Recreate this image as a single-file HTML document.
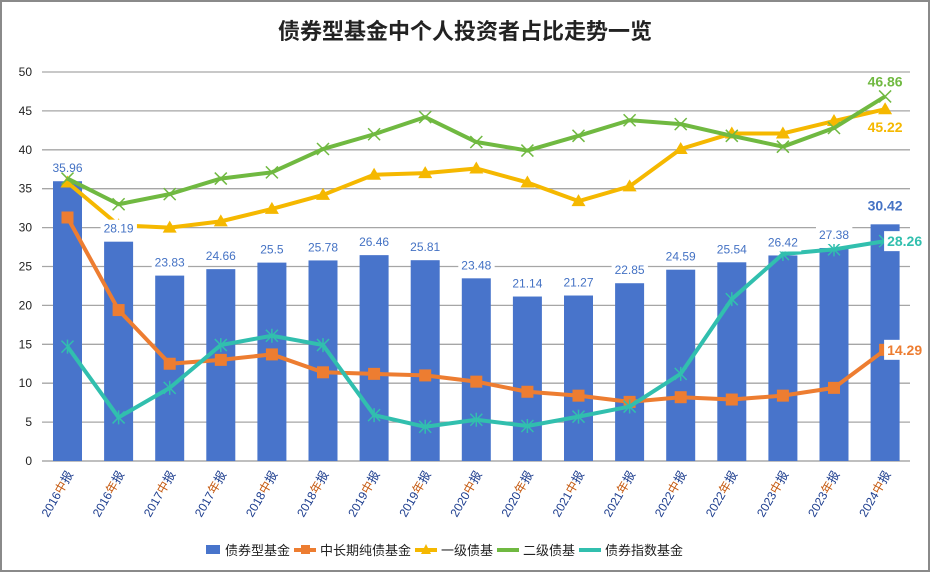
<!DOCTYPE html>
<html><head><meta charset="utf-8"><style>
body{margin:0;background:#fff;font-family:"Liberation Sans","Noto Sans CJK SC",sans-serif}
svg text{font-family:"Liberation Sans","Noto Sans CJK SC",sans-serif}
</style></head><body>
<svg id="c" width="930" height="572">
<rect x="1" y="1" width="928" height="570" fill="#fff" stroke="#8a8a8a" stroke-width="2"/>
<text x="465" y="39" text-anchor="middle" font-size="22" font-weight="bold" fill="#222">债券型基金中个人投资者占比走势一览</text>
<g id="grid"></g><g id="bars"></g><g id="lines"></g><g id="labels"></g><g id="xlab"></g>
<g id="legend"></g>
</svg>
<script>
const categories=["2016中报","2016年报","2017中报","2017年报","2018中报","2018年报","2019中报","2019年报","2020中报","2020年报","2021中报","2021年报","2022中报","2022年报","2023中报","2023年报","2024中报"];
const bondFund=[35.96,28.19,23.83,24.66,25.5,25.78,26.46,25.81,23.48,21.14,21.27,22.85,24.59,25.54,26.42,27.38,30.42];
const pureBond=[31.3,19.4,12.5,13.0,13.7,11.4,11.2,11.0,10.2,8.9,8.4,7.6,8.2,7.9,8.4,9.4,14.29];
const primaryBond=[35.8,30.3,30.0,30.8,32.4,34.2,36.8,37.0,37.6,35.8,33.4,35.3,40.1,42.1,42.1,43.7,45.22];
const secondaryBond=[36.3,33.0,34.3,36.3,37.1,40.1,42.0,44.2,41.0,39.9,41.8,43.8,43.3,41.8,40.4,42.8,46.86];
const indexBond=[14.7,5.6,9.4,14.9,16.1,14.9,5.9,4.4,5.3,4.5,5.7,7.0,11.2,20.8,26.6,27.2,28.26];
const yTicks=[0,5,10,15,20,25,30,35,40,45,50];
const NS="http://www.w3.org/2000/svg";
const y=v=>461-v*7.78;
const x=i=>67.5+i*51.1;
function mk(t,a,p){const e=document.createElementNS(NS,t);for(const k in a)e.setAttribute(k,a[k]);p.appendChild(e);return e;}
const G=document.getElementById('grid'),B=document.getElementById('bars'),L=document.getElementById('lines'),LB=document.getElementById('labels'),XL=document.getElementById('xlab'),LG=document.getElementById('legend');
yTicks.forEach(t=>{
 const l=mk('line',{x1:42,x2:910,y1:y(t),y2:y(t),stroke:t==0?'#999':'#a6a6a6','stroke-width':1.3},G);
 
 
 const tx=mk('text',{x:32,y:y(t)+4,'text-anchor':'end','font-size':12,fill:'#222'},G);tx.textContent=t;
 
 
});
bondFund.forEach((v,i)=>{
 const r=mk('rect',{x:x(i)-14.5,y:y(v),width:29,height:y(0)-y(v),fill:'#4874cb'},B);
 
 
});
function line(data,color,marker,name){
 const g=mk('g',{},L);
 
 
 mk('polyline',{points:data.map((v,i)=>x(i)+','+y(v)).join(' '),fill:'none',stroke:color,'stroke-width':4,'stroke-linejoin':'round'},g);
 data.forEach((v,i)=>{
  const cx=x(i),cy=y(v);
  if(marker=='sq')mk('rect',{x:cx-6,y:cy-6,width:12,height:12,fill:color},g);
  if(marker=='tri')mk('polygon',{points:`${cx},${cy-7} ${cx-7},${cy+5} ${cx+7},${cy+5}`,fill:color},g);
  if(marker=='x'||marker=='star'){mk('path',{d:`M${cx-6} ${cy-6}L${cx+6} ${cy+6}M${cx+6} ${cy-6}L${cx-6} ${cy+6}`+(marker=='star'?`M${cx} ${cy-7}V${cy+7}`:''),stroke:color,'stroke-width':1.5},g);}
 });
}
line(pureBond,'#ed7d31','sq','line-pure-bond');
line(primaryBond,'#f5b800','tri','line-primary-bond');
line(secondaryBond,'#70b941','x','line-secondary-bond');
line(indexBond,'#31bfae','star','line-index-bond');
function lab(tx,px,py,color,size,bold,bg,anchor){
 const t=mk('text',{x:px,y:py,'text-anchor':anchor||'middle','font-size':size,fill:color,'font-weight':bold?'bold':'normal'},LB);
 t.textContent=tx;
 
 
 if(bg){const bb=t.getBBox();const r=mk('rect',{x:bb.x-3,y:bb.y-2,width:bb.width+6,height:bb.height+4,fill:'#fff'},LB);LB.insertBefore(r,t);}
}
bondFund.forEach((v,i)=>{
 const last=i==bondFund.length-1;
 lab(String(v),x(i),y(v)-(last?14:9),'#4472c4',last?14:12,last,!last&&i>0);
});
const n=categories.length-1;
lab(String(secondaryBond[n]),x(n),y(secondaryBond[n])-10,'#70b941',14,true,false);
lab(String(primaryBond[n]),x(n),y(primaryBond[n])+23,'#f5b800',14,true,false);
lab(String(indexBond[n]),x(n)+2,y(indexBond[n])+5,'#31bfae',14,true,true,'start');
lab(String(pureBond[n]),x(n)+2,y(pureBond[n])+5,'#ed7d31',14,true,true,'start');
categories.forEach((c,i)=>{
 const t=mk('text',{x:0,y:0,'text-anchor':'end','font-size':12,fill:'#1f3f8f',transform:`translate(${x(i)+6},${474}) rotate(-60)`},XL);
 t.innerHTML=c.slice(0,4)+'<tspan fill="#c55a11">'+c[4]+'</tspan>'+c[5];
 
 
});
const leg=[['债券型基金','#4874cb','bar'],['中长期纯债基金','#ed7d31','sq'],['一级债基','#f5b800','tri'],['二级债基','#70b941','x'],['债券指数基金','#31bfae','star']];
let lx=206;const ly=550;
leg.forEach(([name,col,m])=>{
 const g=mk('g',{},LG);
 
 
 if(m=='bar')mk('rect',{x:lx,y:ly-5,width:14,height:9,fill:col},g);
 else{mk('line',{x1:lx-4,x2:lx+18,y1:ly,y2:ly,stroke:col,'stroke-width':4},g);
  if(m=='sq')mk('rect',{x:lx+3,y:ly-5,width:9,height:9,fill:col},g);
  if(m=='tri')mk('polygon',{points:`${lx+7},${ly-6} ${lx+2},${ly+4} ${lx+12},${ly+4}`,fill:col},g);}
 const t=mk('text',{x:lx+(m=='bar'?19:22),y:ly+5,'font-size':13,fill:'#222'},g);t.textContent=name;
 lx+=(m=='bar'?19:22)+name.length*13+8;
});
</script>
</body></html>
